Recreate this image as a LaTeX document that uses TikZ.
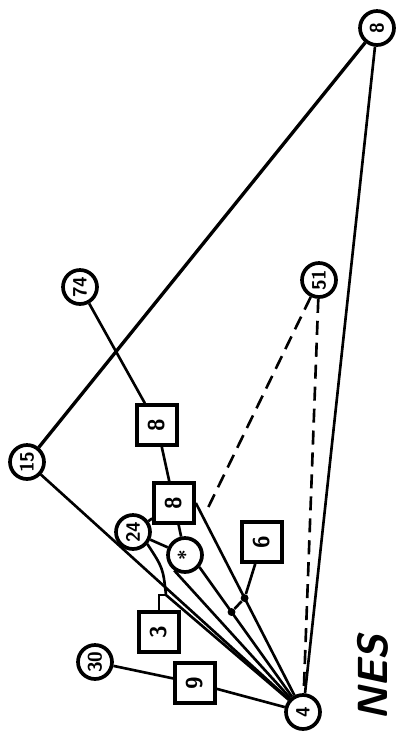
\documentclass[tikz,border=0pt]{standalone}
\usepackage{tikz}
\usetikzlibrary{calc}
\newcommand{\vtxt}[1]{\rotatebox{90}{#1}}

\begin{document}
\begin{tikzpicture}[x=0.02cm, y=-0.02cm,
  conc/.style={circle, draw, line width=2.1pt, minimum size=0.68cm, inner sep=0pt,
               font=\sffamily\bfseries\fontsize{11}{11}\selectfont},
  lbl/.style={rectangle, draw, line width=2.1pt, minimum size=0.8cm, inner sep=0pt,
              font=\sffamily\bfseries\fontsize{13}{13}\selectfont},
  ln/.style={line width=1.5pt},
  dln/.style={line width=1.5pt, dash pattern=on 8pt off 4.5pt},
  jdot/.style={circle, fill, inner sep=0pt, minimum size=4.5pt}
]
\useasboundingbox (0,0) rectangle (397,734);

% concentrations
\node[conc] (c8)    at (377,28)  {\vtxt{8}};
\node[conc] (c74)   at (80,287)  {\vtxt{74}};
\node[conc] (c51)   at (319,280) {\vtxt{51}};
\node[conc] (c15)   at (27,462)  {\vtxt{15}};
\node[conc] (c24)   at (133,532) {\vtxt{24}};
\node[conc] (cstar) at (185,555) {\vtxt{*}};
\node[conc] (c30)   at (95,662)  {\vtxt{30}};
\node[conc] (c4)    at (303,712) {\vtxt{4}};

% labels
\node[lbl] (b8a) at (157,425) {\vtxt{8}};
\node[lbl] (b8b) at (174,503) {\vtxt{8}};
\node[lbl] (b6)  at (262,542) {\vtxt{6}};
\node[lbl] (b3)  at (159,632) {\vtxt{3}};
\node[lbl] (b9)  at (195,683) {\vtxt{9}};

\node[font=\sffamily\bfseries\itshape\fontsize{24}{24}\selectfont, rotate=90,
      anchor=east, inner sep=0pt] (ttl) at (373,634) {NES};

% links
\draw[ln, line width=1.9pt] (c8) -- (c15);
\draw[ln] (c8) -- (c4);
\draw[dln] (c51) -- (c4);
\draw[dln, shorten >=19pt] (c51) -- (cstar);
\draw[ln] (c74) -- (b8a) -- (b8b);
\draw[ln] (b8b) -- (c24);
\draw[ln] (b8b) -- (cstar);
\draw[ln] (c24) -- (cstar);
\draw[ln] (b8b.east) -- (c4);
\draw[ln] (c15) -- (c4);
\coordinate (j3) at (166,595);
\draw[ln] (c24.-40) .. controls (163,568) .. (j3) -- (c4);
\draw[ln] (cstar.-125) -- (c4);
\draw[ln] (cstar.-40) -- (c4);
\draw[ln] (c30) -- (b9) -- (c4);

% junctions
\coordinate (j6) at ($(b8b.east)!0.455!(c4)$);
\coordinate (js) at ($(cstar.-40)!0.31!(c4)$);
\node[jdot] (d6) at (j6) {};
\node[jdot] (ds) at (js) {};
\draw[ln] (b6) -- (d6) -- (ds);
\draw[ln] (b3.north) |- (j3);
\end{tikzpicture}
\end{document}
